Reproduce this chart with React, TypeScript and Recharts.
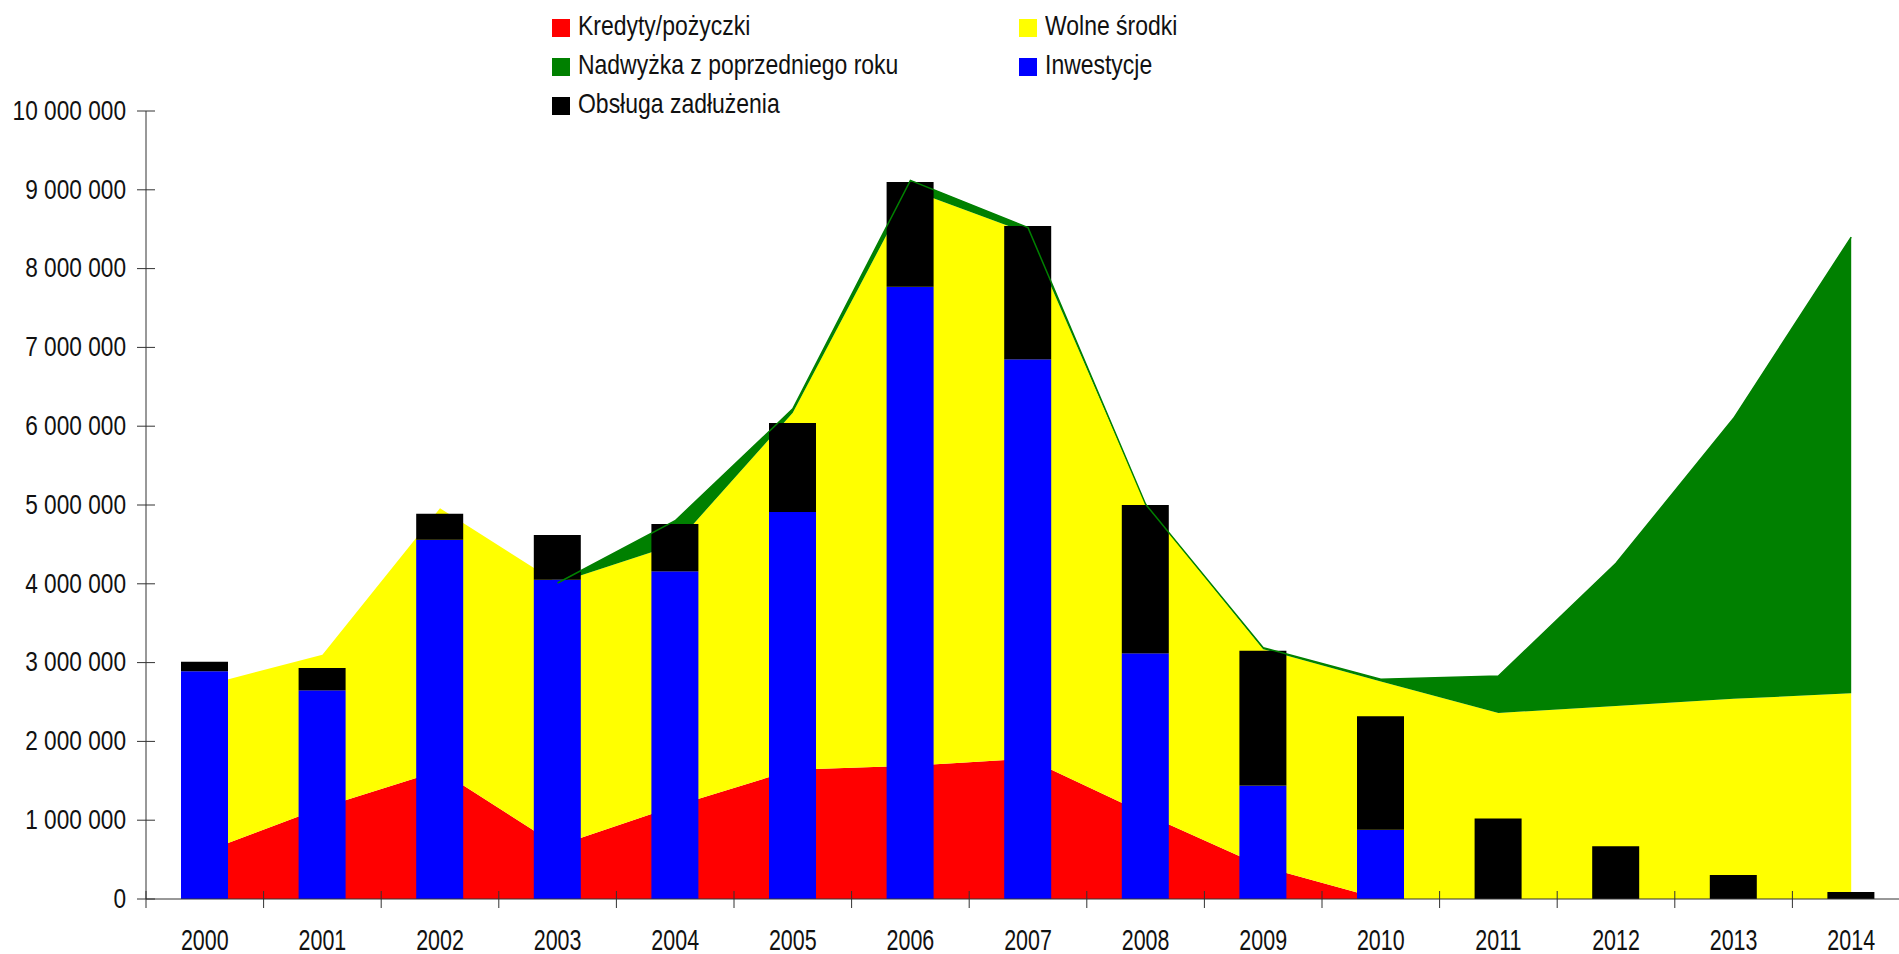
import React from "react";
import { ComposedChart, Area, Bar, Line, XAxis, YAxis } from "recharts";

// lata i wartości
const YEARS = ["2000","2001","2002","2003","2004","2005","2006","2007","2008","2009","2010","2011","2012","2013","2014"];

const KREDYTY = [600000, 1160000, 1630000, 675000, 1180000, 1640000, 1690000, 1780000, 1080000, 410000, 0, 0, 0, 0, 0];
const WOLNE = [2110000, 1940000, 3330000, 3335000, 3320000, 4530000, 7310000, 6670000, 3930000, 2760000, 2760000, 2360000, 2450000, 2540000, 2610000];
const NADWYZKA = [0, 0, 0, 0, 300000, 50000, 120000, 70000, 0, 20000, 30000, 470000, 1810000, 3560000, 5790000];
const INWESTYCJE = [2890000, 2650000, 4560000, 4050000, 4160000, 4910000, 7770000, 6850000, 3120000, 1440000, 880000, 0, 0, 0, 0];
const OBSLUGA = [120000, 280000, 330000, 570000, 600000, 1130000, 1330000, 1690000, 1880000, 1710000, 1440000, 1020000, 670000, 305000, 89000];

const Y_TICKS = [0, 1000000, 2000000, 3000000, 4000000, 5000000, 6000000, 7000000, 8000000, 9000000, 10000000];

const LEGEND = [
  { name: "Kredyty/pożyczki", color: "#FF0000" },
  { name: "Wolne środki", color: "#FFFF00" },
  { name: "Nadwyżka z poprzedniego roku", color: "#008000" },
  { name: "Inwestycje", color: "#0000FF" },
  { name: "Obsługa zadłużenia", color: "#000000" },
];

const FONT = '"Liberation Sans", Arial, sans-serif';
const CHART_W = 1920;
const CHART_H = 954;
const LEFT = 146;
const TOP = 111;
const PLOT_W = 1764;
const Y_AXIS_W = 60;
const BAND = PLOT_W / YEARS.length;

const fmt = (v: number) => String(v).replace(/\B(?=(\d{3})+(?!\d))/g, " ");

function XTick(props: any) {
  const { x, y, payload } = props;
  const bx = x - BAND / 2;
  return (
    <g>
      <line x1={bx} x2={bx} y1={y - 8} y2={y + 9} stroke="#333" strokeWidth={1} />
      <text transform={`translate(${x},${y + 50.5}) scale(0.74,1)`} textAnchor="middle"
        fontSize={29} fontFamily={FONT} fill="#111">{payload.value}</text>
    </g>
  );
}

function YTick(props: any) {
  const { y, payload } = props;
  const x = LEFT;
  return (
    <g>
      <line x1={x - 9} x2={x + 9} y1={y} y2={y} stroke="#333" strokeWidth={1} />
      <text transform={`translate(${x - 20},${y + 8.7}) scale(0.84,1)`} textAnchor="end"
        fontSize={27} fontFamily={FONT} fill="#111">{fmt(payload.value)}</text>
    </g>
  );
}

export default function App() {
  const data = YEARS.map((year, i) => ({
    year,
    kredyty: KREDYTY[i],
    wolne: WOLNE[i],
    nadwyzka: NADWYZKA[i],
    inwestycje: INWESTYCJE[i],
    obsluga: OBSLUGA[i],
    granica: i >= 3 ? KREDYTY[i] + WOLNE[i] + NADWYZKA[i] : null,
  }));

  return (
    <div style={{ position: "fixed", left: 0, top: 0, width: 1899, height: 954, overflow: "hidden", background: "#fff" }}>
      <ComposedChart width={CHART_W} height={CHART_H} data={data}
        margin={{ top: TOP, right: CHART_W - LEFT - PLOT_W, bottom: 0, left: LEFT - Y_AXIS_W }}>
        <XAxis dataKey="year" height={CHART_H - TOP - 788} interval={0}
          tickLine={false} tickSize={0} tickMargin={0}
          tick={(p: any) => <XTick {...p} />} stroke="#333" />
        <YAxis width={Y_AXIS_W} domain={[0, 10000000]} ticks={Y_TICKS} interval={0}
          tickLine={false} tickSize={0} tickMargin={0} allowDataOverflow
          tick={(p: any) => <YTick {...p} />} stroke="#333" />
        <Area type="linear" dataKey="kredyty" stackId="obszar" fill="#FF0000" fillOpacity={1}
          stroke="none" dot={false} activeDot={false} isAnimationActive={false} />
        <Area type="linear" dataKey="wolne" stackId="obszar" fill="#FFFF00" fillOpacity={1}
          stroke="none" dot={false} activeDot={false} isAnimationActive={false} />
        <Area type="linear" dataKey="nadwyzka" stackId="obszar" fill="#008000" fillOpacity={1}
          stroke="none" dot={false} activeDot={false} isAnimationActive={false} />
        <Line type="linear" dataKey="granica" stroke="#008000" strokeWidth={1.5}
          dot={false} activeDot={false} isAnimationActive={false} />
        <Bar dataKey="inwestycje" stackId="slupki" fill="#0000FF" barSize={47} isAnimationActive={false} />
        <Bar dataKey="obsluga" stackId="slupki" fill="#000000" barSize={47} isAnimationActive={false} />
      </ComposedChart>

      <div style={{
        position: "absolute", left: 552, top: 8, display: "grid",
        gridTemplateColumns: "467px 300px", gridAutoRows: "39.3px", fontFamily: FONT,
      }}>
        {LEGEND.map(item => (
          <div key={item.name} style={{ display: "flex", alignItems: "center" }}>
            <span style={{ width: 18, height: 18, background: item.color, marginRight: 8, flex: "none" }} />
            <span style={{
              fontSize: 28, lineHeight: 1, color: "#111", whiteSpace: "nowrap",
              display: "inline-block", transform: "scaleX(0.82)", transformOrigin: "left center",
              position: "relative", top: -2,
            }}>{item.name}</span>
          </div>
        ))}
      </div>
    </div>
  );
}
